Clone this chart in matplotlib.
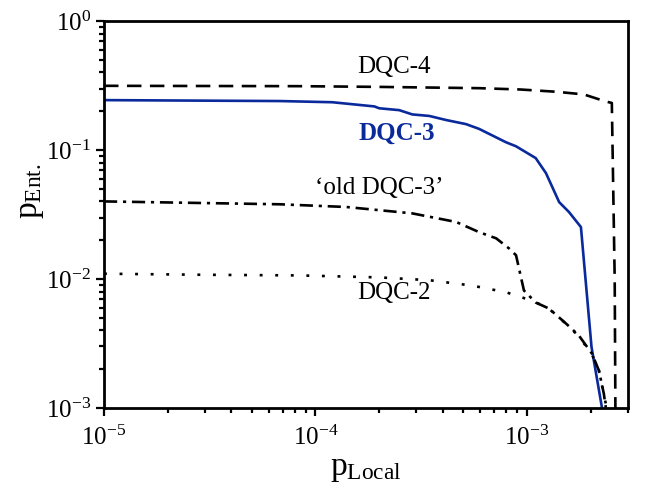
import numpy as np
import matplotlib
matplotlib.use('Agg')
import matplotlib.pyplot as plt

plt.rcParams['font.family'] = ['Liberation Serif', 'DejaVu Serif']
plt.rcParams['mathtext.fontset'] = 'custom'
plt.rcParams['mathtext.rm'] = 'Liberation Serif'
plt.rcParams['mathtext.it'] = 'Liberation Serif:italic'
plt.rcParams['mathtext.bf'] = 'Liberation Serif:bold'
plt.rcParams['axes.unicode_minus'] = False

# DQC-4 (dashed)
x4 = [1e-5, 8.4e-5, 2.0e-4, 5.94e-4, 9.3e-4, 1.39e-3, 1.86e-3, 2.36e-3, 2.52e-3,
      2.6e-3, 2.62e-3]
y4 = [0.315, 0.313, 0.309, 0.302, 0.295, 0.283, 0.270, 0.238, 0.232,
      0.01, 1e-3]

# DQC-3 (blue solid)
x3 = [1e-5, 6.76e-5, 1.2e-4, 1.9e-4, 2.0e-4, 2.49e-4, 2.87e-4, 3.45e-4, 4.15e-4,
      5.15e-4, 5.94e-4, 7.96e-4, 8.88e-4, 1.10e-3, 1.23e-3, 1.42e-3, 1.58e-3,
      1.80e-3, 2.02e-3, 2.26e-3]
y3 = [0.244, 0.240, 0.235, 0.218, 0.211, 0.204, 0.189, 0.184, 0.171,
      0.159, 0.146, 0.115, 0.107, 0.0867, 0.0663, 0.0395, 0.0331,
      0.0253, 0.00297, 0.00102]

# 'old DQC-3' (dash-dot)
xo = [1e-5, 6.76e-5, 1.40e-4, 2.87e-4, 4.63e-4, 5.94e-4, 7.15e-4, 8.22e-4, 8.88e-4,
      9.68e-4, 1.10e-3, 1.27e-3, 1.53e-3, 1.76e-3, 2.03e-3, 2.19e-3, 2.31e-3, 2.36e-3]
yo = [0.0400, 0.0380, 0.0362, 0.0323, 0.0277, 0.0231, 0.0207, 0.0173, 0.0153,
      0.00815, 0.00658, 0.00591, 0.00452, 0.00365, 0.00264, 0.00195, 0.00129, 0.00101]

# DQC-2 (dotted)
x2 = [1e-5, 2.84e-5, 8.4e-5, 2.0e-4, 3.45e-4, 5.5e-4, 7.96e-4, 9.5e-4,
      1.10e-3, 1.27e-3, 1.53e-3, 1.76e-3, 2.03e-3, 2.19e-3, 2.38e-3]
y2 = [0.0110, 0.0108, 0.01067, 0.0103, 0.0098, 0.0089, 0.0079, 0.0072,
      0.0066, 0.0059, 0.0045, 0.0036, 0.0026, 0.00195, 0.00101]

fig = plt.figure(figsize=(6.54, 4.91), dpi=100)
ax = fig.add_axes([0.159, 0.169, 0.801, 0.788])

ax.plot(x4, y4, color='k', lw=1.9, dashes=(5.5, 3.2))
ax.plot(x3, y3, color='#0a2a9c', lw=1.9)
ax.plot(xo, yo, color='k', lw=1.9, dashes=(5, 2.2, 1.2, 2.2))
ax.plot(x2, y2, color='k', lw=1.9, dashes=(1.1, 4.8))

ax.set_xscale('log')
ax.set_yscale('log')
ax.set_xlim(1e-5, 3e-3)
ax.set_ylim(1e-3, 1)

ax.text(2.36e-4, 0.44, 'DQC-4', fontsize=18, ha='center', va='center')
ax.text(2.41e-4, 0.135, 'DQC-3', fontsize=18, ha='center', va='center',
        color='#0a2a9c', fontweight='bold')
ax.text(2.0e-4, 0.0505, '\u2018old DQC-3\u2019', fontsize=18, ha='center', va='center')
ax.text(2.36e-4, 0.00773, 'DQC-2', fontsize=18, ha='center', va='center')

ax.set_xlabel(r'$\mathregular{p_{Local}}$', fontsize=24, labelpad=2)
ax.set_ylabel(r'$\mathregular{p_{Ent.}}$', fontsize=24)
ax.yaxis.set_label_coords(-0.11, 0.56)

for s in ax.spines.values():
    s.set_linewidth(2.0)
ax.tick_params(which='major', direction='out', length=6, width=1.6, labelsize=18,
               top=False, right=False)
ax.tick_params(which='minor', direction='out', length=3.5, width=1.6,
               top=False, right=False)
ax.tick_params(axis='x', which='major', pad=7)

fig.savefig('out.png', dpi=100)
